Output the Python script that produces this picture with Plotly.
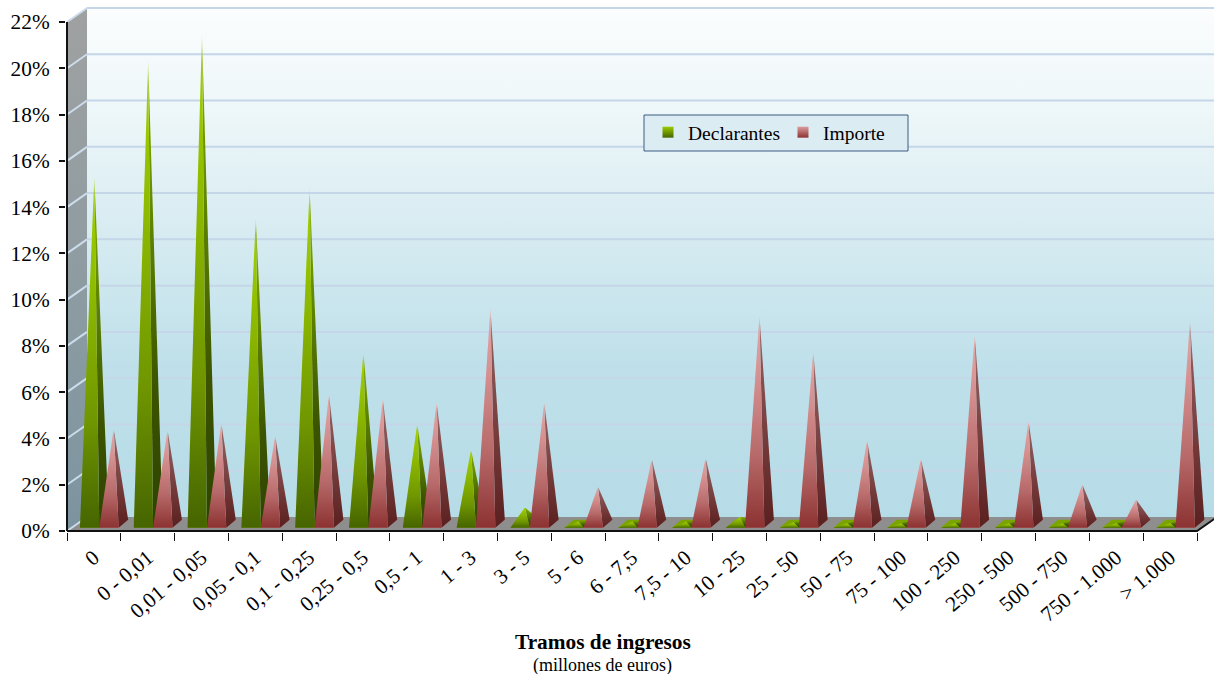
import plotly.graph_objects as go

# Distribution of filers and declared amount by income bracket (percent)
tramos = ["0", "0 - 0,01", "0,01 - 0,05", "0,05 - 0,1", "0,1 - 0,25", "0,25 - 0,5", "0,5 - 1",
          "1 - 3", "3 - 5", "5 - 6", "6 - 7,5", "7,5 - 10", "10 - 25", "25 - 50", "50 - 75",
          "75 - 100", "100 - 250", "250 - 500", "500 - 750", "750 - 1.000", "> 1.000"]
declarantes = [15.0, 20.0, 21.1, 13.2, 14.5, 7.4, 4.3, 3.2, 0.7, 0.1, 0.1, 0.1, 0.3,
               0.05, 0.02, 0.02, 0.02, 0.02, 0.02, 0.02, 0.02]
importe = [4.1, 4.05, 4.35, 3.8, 5.6, 5.4, 5.25, 9.3, 5.25, 1.6, 2.8, 2.85, 9.0, 7.45,
           3.6, 2.8, 8.15, 4.45, 1.7, 1.05, 8.75]
y_ticks = list(range(0, 23, 2))

SERIF = "Liberation Serif, Times New Roman, serif"

# Canvas layout in pixels: axis origin, end of the front plane, and subplot bounds
W, H = 1214, 674
X0, X1, Y22, Y0 = 67, 1197, 22, 531
PL, PR, PT, PB = 66, W, 7, 532
n = len(tramos)
px_x = (X1 - X0) / n
px_y = (Y0 - Y22) / 22

# Oblique projection: shift of the back wall from the front plane, in axis units
WALL_DX, WALL_DY = 20 / px_x, 14 / px_y
# Pyramid footprint, in axis units
BAR_W, BAR_DX, BAR_DY = 0.36, 9.5 / px_x, 8 / px_y
BASE_Y = 3.3 / px_y
GREEN_OFFSET, RED_OFFSET = 0.24, 0.60


def paper_x(px):
    return (px - PL) / (PR - PL)


def paper_y(px):
    return (PB - px) / (PB - PT)


fig = go.Figure()


def poly(xs, ys, **kw):
    fig.add_trace(go.Scatter(x=xs, y=ys, mode="lines", line=dict(width=0), fill="toself",
                             hoverinfo="skip", showlegend=False, **kw))


def grad(*stops):
    return dict(type="vertical", colorscale=list(stops))


def seg(xs, ys, color, width):
    fig.add_trace(go.Scatter(x=xs, y=ys, mode="lines", line=dict(color=color, width=width),
                             hoverinfo="skip", showlegend=False))


# Back wall
poly([WALL_DX, n + WALL_DX, n + WALL_DX, WALL_DX, WALL_DX],
     [WALL_DY, WALL_DY, 22 + WALL_DY, 22 + WALL_DY, WALL_DY],
     fillgradient=grad([0, "#b6dce7"], [0.3, "#bfe0ea"], [0.55, "#d6ebf1"], [0.8, "#eef7f9"], [1, "#fbfdfe"]))
# Left wall
poly([0, WALL_DX, WALL_DX, 0, 0], [0, WALL_DY, 22 + WALL_DY, 22, 0],
     fillgradient=grad([0, "#7c94a0"], [0.4, "#8b9ba1"], [1, "#a0a1a1"]))
# Floor
poly([0, n, n + WALL_DX, WALL_DX, 0], [0, 0, WALL_DY, WALL_DY, 0], fillcolor="#8e8e8e")

# Gridlines on the back wall, folded along the left wall
for t in y_ticks[1:]:
    seg([WALL_DX, n + WALL_DX], [t + WALL_DY, t + WALL_DY], "#c5d6e9", 2)
for t in y_ticks:
    seg([0, WALL_DX], [t, t + WALL_DY], "#ccdcec", 2)

GREEN = dict(base="#7aa400",
             front=grad([0, "#466400"], [0.3, "#6f9600"], [0.65, "#8cb800"], [0.95, "#a0cf00"], [1, "#d4e8a0"]),
             side=grad([0, "#2e4200"], [0.3, "#3c5400"], [0.65, "#5f8400"], [0.95, "#84aa00"], [1, "#cce098"]))
RED = dict(base="#c98080",
           front=grad([0, "#8c3232"], [0.35, "#b86a6a"], [0.7, "#d48f8f"], [0.95, "#e0a5a5"], [1, "#f0d0d0"]),
           side=grad([0, "#5a2020"], [0.4, "#743a3a"], [0.8, "#8a5858"], [0.95, "#a27474"], [1, "#e0c0c0"]))


def pyramid(i, value, offset, style, group):
    x0 = i + offset
    x1 = x0 + BAR_W
    y0 = BASE_Y
    y1 = BASE_Y + BAR_DY
    ax = (x0 + x1 + BAR_DX) / 2
    ay = (y0 + y1) / 2 + value
    poly([x0, x1, x1 + BAR_DX, x0 + BAR_DX, x0], [y0, y0, y1, y1, y0],
         fillcolor=style["base"], legendgroup=group)
    poly([x1, x1 + BAR_DX, ax, x1], [y0, y1, ay, y0], fillgradient=style["side"], legendgroup=group)
    poly([x0, x1, ax, x0], [y0, y0, ay, y0], fillgradient=style["front"], legendgroup=group)


for i in range(n):
    pyramid(i, declarantes[i], GREEN_OFFSET, GREEN, "Declarantes")
    pyramid(i, importe[i], RED_OFFSET, RED, "Importe")

# Axis lines of the front plane and the right edge of the floor
seg([0, 0], [0, 22], "#111111", 2)
seg([0, n, n + WALL_DX], [0, 0, WALL_DY], "#111111", 2)

# Legend keys
for name, top, bottom in [("Declarantes", "#9ccc00", "#466400"), ("Importe", "#dc9c9c", "#8c3232")]:
    fig.add_trace(go.Scatter(x=[None], y=[None], mode="markers", name=name, legendgroup=name,
                             marker=dict(symbol="square", size=11, color=top,
                                         gradient=dict(type="vertical", color=bottom),
                                         line=dict(width=0)),
                             hoverinfo="skip", showlegend=True))

fig.update_layout(
    width=W, height=H,
    margin=dict(l=PL, r=W - PR, t=PT, b=H - PB, autoexpand=False),
    paper_bgcolor="white", plot_bgcolor="rgba(0,0,0,0)",
    font=dict(family=SERIF, color="black", size=20),
    xaxis=dict(range=[(PL - X0) / px_x, (PR - X0) / px_x], tickmode="array",
               tickvals=[i + 0.5 for i in range(n)], ticktext=tramos,
               tickangle=-40, ticks="", ticklabelstandoff=8, showgrid=False, zeroline=False,
               showline=False, tickfont=dict(size=21.33),
               minor=dict(tickmode="array", tickvals=list(range(n + 1)), ticks="outside",
                          ticklen=8, tickcolor="#111111", tickwidth=1, showgrid=False)),
    yaxis=dict(range=[(Y0 - PB) / px_y, (Y0 - PT) / px_y], tickmode="array", tickvals=y_ticks,
               ticktext=[f"{t}%" for t in y_ticks], ticks="outside", ticklen=6,
               tickcolor="#111111", tickwidth=2, showgrid=False, ticklabelstandoff=5,
               zeroline=False, showline=False, tickfont=dict(size=21.33)),
    legend=dict(orientation="h", x=paper_x(648), xref="paper", y=paper_y(113),
                yanchor="top", bgcolor="rgba(0,0,0,0)", borderwidth=0,
                entrywidth=90, entrywidthmode="pixels", font=dict(size=19.5)),
    shapes=[dict(type="rect", xref="paper", yref="paper",
                 x0=paper_x(644), x1=paper_x(908), y0=paper_y(151), y1=paper_y(115),
                 fillcolor="#dcecf3", line=dict(color="#3d5c82", width=1))],
    annotations=[
        dict(text="<b>Tramos de ingresos</b>", xref="paper", yref="paper", xanchor="center", yanchor="middle",
             x=paper_x(602.5), y=paper_y(642), showarrow=False, font=dict(size=21.33)),
        dict(text="(millones de euros)", xref="paper", yref="paper", xanchor="center", yanchor="middle",
             x=paper_x(602.5), y=paper_y(665), showarrow=False, font=dict(size=18)),
    ],
)

fig.write_html("out.html")
